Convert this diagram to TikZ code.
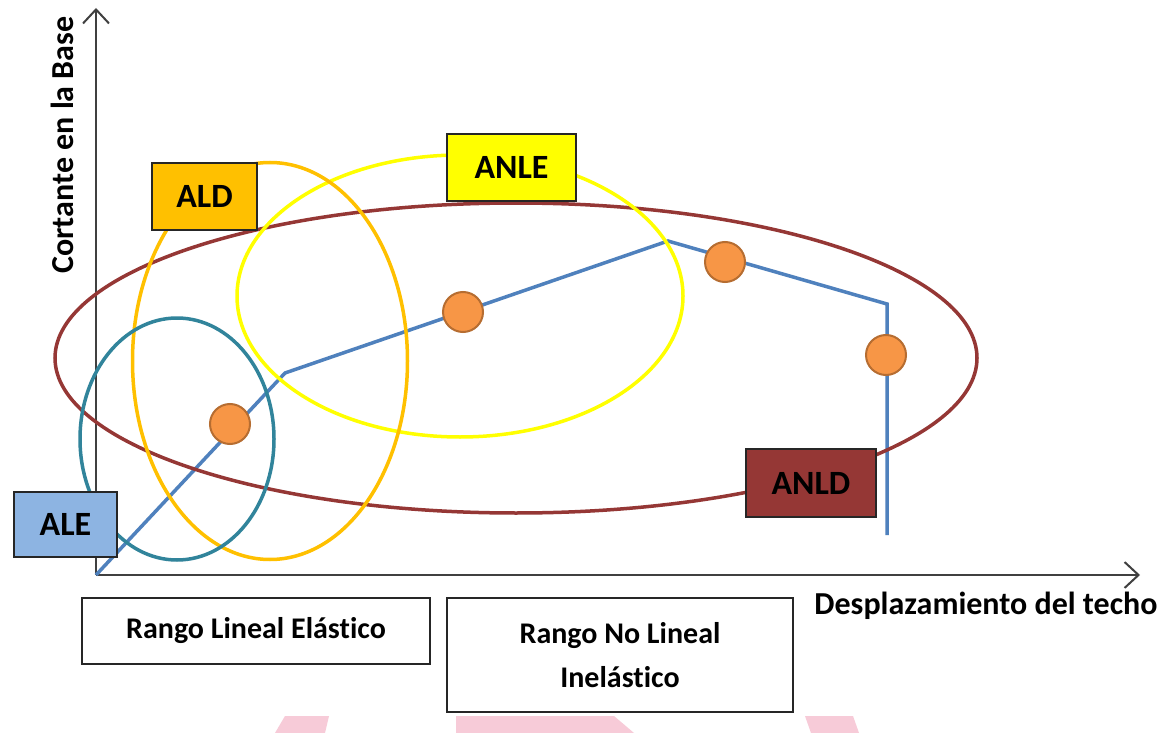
\documentclass[tikz,border=0pt]{standalone}
\usepackage{fontspec}
\setmainfont{Carlito}[Ligatures=NoCommon]
\usetikzlibrary{arrows.meta,shapes.geometric}

\definecolor{axisgray}{HTML}{404040}
\definecolor{curveblue}{HTML}{4F81BD}
\definecolor{dotfill}{HTML}{F79646}
\definecolor{dotedge}{HTML}{B66D31}
\definecolor{aleblue}{HTML}{8DB4E2}
\definecolor{aleteal}{HTML}{31849B}
\definecolor{aldorange}{HTML}{FFC000}
\definecolor{anleyellow}{HTML}{FFFF00}
\definecolor{anldred}{HTML}{953735}
\definecolor{markpink}{HTML}{F7CBD8}

\tikzset{
  axisline/.style={draw=axisgray, line width=2pt,
    -{Straight Barb[length=14pt,width=26pt,line width=2pt]}},
  zone/.style={ellipse, draw, line width=3.5pt, inner sep=0pt, fill=none},
  tagbox/.style={draw=black!85, line width=2.2pt, inner sep=0pt,
    font=\bfseries\fontsize{34}{40}\selectfont, text=black},
  rangebox/.style={draw=black!85, line width=2.2pt, inner sep=0pt, fill=white,
    font=\bfseries\fontsize{30}{44}\selectfont, align=center},
  axislabel/.style={font=\bfseries\fontsize{32}{38}\selectfont, inner sep=0pt},
  curve/.style={draw=curveblue, line width=3.5pt, line join=miter},
  stage/.style={circle, fill=dotfill, draw=dotedge, line width=2pt,
    minimum size=40pt, inner sep=0pt},
}

\begin{document}
\begin{tikzpicture}[x=1pt, y=-1pt]
\useasboundingbox (0,0) rectangle (1168,733);
\fill[white] (0,0) rectangle (1168,733);

% faint watermark strip along the lower edge
\fill[markpink] (285,716) -- (329,716) -- (325,733) -- (275,733) -- cycle;
\fill[markpink] (456,716) -- (614,716) -- (634,733) -- (456,733) -- cycle;
\fill[markpink] (805,716) -- (853,716) -- (859,733) -- (811,733) -- cycle;

% axes
\coordinate (origin) at (96,575);
\coordinate (ytip) at (96,8);
\coordinate (xtip) at (1140,575);
\draw[axisline] (origin) -- (ytip);
\draw[axisline] (origin) -- (xtip);

\node[axislabel, rotate=90] (ylab) at (62,145) {Cortante en la Base};
\node[axislabel] (xlab) at (986,606) {Desplazamiento del techo};

% capacity curve
\coordinate (c0) at (96,575);
\coordinate (c1) at (285,373);
\coordinate (c2) at (668,241);
\coordinate (c3) at (887,304);
\coordinate (c4) at (887,535);
\draw[curve] (c0) -- (c1) -- (c2) -- (c3) -- (c4);

% analysis zones
\node[zone, draw=anldred, minimum width=922pt, minimum height=310pt] (zanld) at (516,358) {};
\node[zone, draw=anleyellow, minimum width=446pt, minimum height=282pt] (zanle) at (460,296) {};
\node[zone, draw=aldorange, minimum width=275pt, minimum height=397pt] (zald) at (270,361) {};
\node[zone, draw=aleteal, minimum width=194pt, minimum height=242pt] (zale) at (177,439) {};

% performance points
\node[stage] (s1) at (230,424) {};
\node[stage] (s2) at (463,312) {};
\node[stage] (s3) at (725,262) {};
\node[stage] (s4) at (886,355) {};

% zone tags
\node[tagbox, fill=aleblue, minimum width=103pt, minimum height=65pt] (ale) at (65.5,524.5) {ALE};
\node[tagbox, fill=aldorange, minimum width=105pt, minimum height=67pt] (ald) at (204.5,196.5) {ALD};
\node[tagbox, fill=anleyellow, minimum width=129pt, minimum height=67pt] (anle) at (511.5,167.5) {ANLE};
\node[tagbox, fill=anldred, minimum width=130pt, minimum height=68pt] (anld) at (811,483) {ANLD};

% ranges below the axis
\node[rangebox, minimum width=348pt, minimum height=66pt] (rle) at (256,631) {Rango Lineal Elástico};
\node[rangebox, minimum width=346pt, minimum height=114pt] (rnli) at (620,655) {Rango No Lineal\\Inelástico};
\end{tikzpicture}
\end{document}
